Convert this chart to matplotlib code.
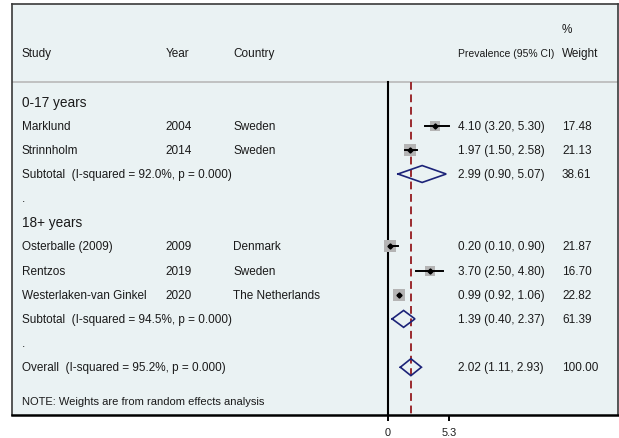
import numpy as np
import matplotlib
matplotlib.use("Agg")
import matplotlib.pyplot as plt

plt.rcParams['font.family'] = ['Liberation Sans', 'DejaVu Sans']

# Study level data
studies = ["Marklund", "Strinnholm", "Osterballe (2009)", "Rentzos", "Westerlaken-van Ginkel"]
years = [2004, 2014, 2009, 2019, 2020]
countries = ["Sweden", "Sweden", "Denmark", "Sweden", "The Netherlands"]
est = [4.10, 1.97, 0.20, 3.70, 0.99]
lo = [3.20, 1.50, 0.10, 2.50, 0.92]
hi = [5.30, 2.58, 0.90, 4.80, 1.06]
weights = [17.48, 21.13, 21.87, 16.70, 22.82]

# Subgroups and pooled results
groups = ["0-17 years", "18+ years"]
group_members = [[0, 1], [2, 3, 4]]
sub_est = [2.99, 1.39]
sub_lo = [0.90, 0.40]
sub_hi = [5.07, 2.37]
sub_w = [38.61, 61.39]
sub_i2 = [92.0, 94.5]
sub_p = [0.000, 0.000]

overall_est, overall_lo, overall_hi = 2.02, 1.11, 2.93
overall_w, overall_i2, overall_p = 100.00, 95.2, 0.000

xticks = [0, 5.3]
xticklabels = ["0", "5.3"]

# Figure: 619x439 px
W, H = 619, 439
fig = plt.figure(figsize=(W / 100, H / 100), dpi=100)
left, right, top, bottom = 12, 618, 5, 416
ax = fig.add_axes([left / W, (H - bottom) / H, (right - left) / W, (bottom - top) / H])
ax.set_facecolor('#eaf2f3')

px_per_unit = 11.58
x0_px = 387.5
ax.set_xlim((left - x0_px) / px_per_unit, (right - x0_px) / px_per_unit)
ax.set_ylim(12.98, -4.04)

# column positions (axes fraction)
col_study, col_year, col_country = 0.0165, 0.254, 0.3647
col_ci, col_w = 0.736, 0.9076
trans = ax.get_yaxis_transform()
tc = '#1a1a1a'
fs = 8.5

def row_text(y, study, year="", country="", ci="", w="", size=fs):
    ax.text(col_study, y, study, transform=trans, va='center', ha='left', fontsize=size, color=tc)
    if year != "":
        ax.text(col_year, y, str(year), transform=trans, va='center', ha='left', fontsize=fs, color=tc)
    if country:
        ax.text(col_country, y, country, transform=trans, va='center', ha='left', fontsize=fs, color=tc)
    if ci:
        ax.text(col_ci, y, ci, transform=trans, va='center', ha='left', fontsize=fs, color=tc)
    if w:
        ax.text(col_w, y, w, transform=trans, va='center', ha='left', fontsize=fs, color=tc)

# header
ax.text(col_study, -2, "Study", transform=trans, va='center', fontsize=fs, color=tc)
ax.text(col_year, -2, "Year", transform=trans, va='center', fontsize=fs, color=tc)
ax.text(col_country, -2, "Country", transform=trans, va='center', fontsize=fs, color=tc)
ax.text(col_ci, -2, "Prevalence (95% CI)", transform=trans, va='center', fontsize=7.5, color=tc)
ax.text(col_w, -2, "Weight", transform=trans, va='center', fontsize=fs, color=tc)
ax.text(col_w, -3, "%", transform=trans, va='center', fontsize=fs, color=tc)

sep = -0.795
ax.axhline(sep, color='#bdbdbd', lw=1.3)
ax.plot([0, 0], [sep, 12.98], color='black', lw=1.5, zorder=2)
ax.plot([overall_est, overall_est], [sep, 12.98], color='#9a2a2e', lw=1.4,
        dashes=(4, 2.4), zorder=2)

diamond_color = '#1c2378'
dh = 0.35

def diamond(y, e, l, h):
    ax.plot([l, e, h, e, l], [y, y - dh, y, y + dh, y], color=diamond_color, lw=1.2,
            solid_joinstyle='miter', zorder=4)

row = 0
for g, name in enumerate(groups):
    ax.text(col_study, row, name, transform=trans, va='center', fontsize=9.8, color=tc)
    row += 1
    for i in group_members[g]:
        side_pt = 1.8 * np.sqrt(weights[i])
        ax.plot([est[i]], [row], marker='s', markersize=side_pt, color='#b4b4b4',
                markeredgewidth=0, zorder=3)
        ax.plot([lo[i], hi[i]], [row, row], color='black', lw=1.4, zorder=4)
        ax.plot([est[i]], [row], marker='D', markersize=2.6, color='black', zorder=5)
        row_text(row, studies[i], years[i], countries[i],
                 f"{est[i]:.2f} ({lo[i]:.2f}, {hi[i]:.2f})", f"{weights[i]:.2f}")
        row += 1
    diamond(row, sub_est[g], sub_lo[g], sub_hi[g])
    row_text(row, f"Subtotal  (I-squared = {sub_i2[g]:.1f}%, p = {sub_p[g]:.3f})",
             ci=f"{sub_est[g]:.2f} ({sub_lo[g]:.2f}, {sub_hi[g]:.2f})", w=f"{sub_w[g]:.2f}")
    row += 1
    row_text(row, ".")
    row += 1

diamond(row, overall_est, overall_lo, overall_hi)
row_text(row, f"Overall  (I-squared = {overall_i2:.1f}%, p = {overall_p:.3f})",
         ci=f"{overall_est:.2f} ({overall_lo:.2f}, {overall_hi:.2f})", w=f"{overall_w:.2f}")
ax.text(col_study, 12.38, "NOTE: Weights are from random effects analysis", transform=trans,
        va='center', fontsize=8.0, color=tc)

# axes styling
for s in ['top', 'left', 'right']:
    ax.spines[s].set_color('#3a3a3a')
    ax.spines[s].set_linewidth(1.2)
ax.spines['bottom'].set_color('black')
ax.spines['bottom'].set_linewidth(1.8)
ax.set_yticks([])
ax.set_xticks(xticks)
ax.set_xticklabels(xticklabels)
ax.tick_params(axis='x', length=4.5, width=1.4, color='black', labelsize=7.8, pad=4.5,
               labelcolor=tc)

fig.savefig('out.png', dpi=100)
